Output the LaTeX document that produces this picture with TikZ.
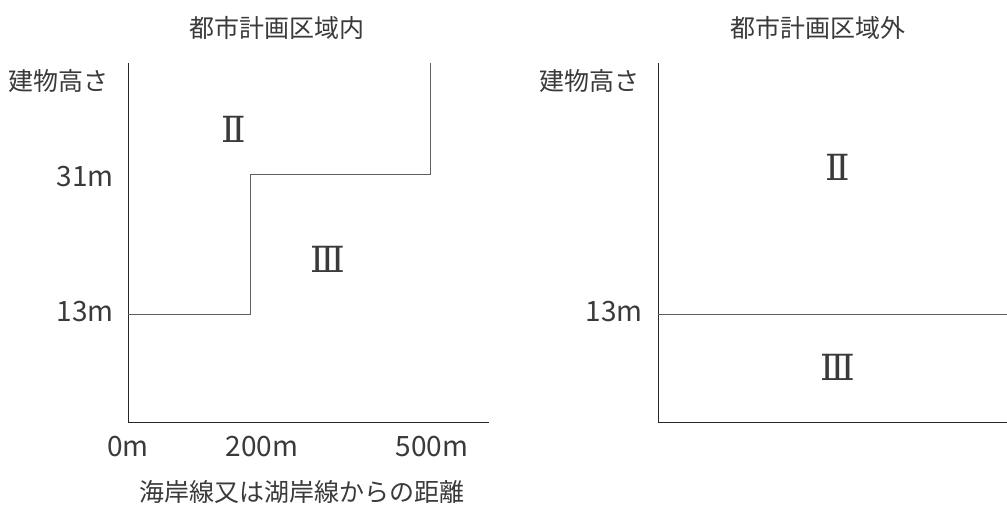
\documentclass[tikz,border=0pt]{standalone}
\usepackage{fontspec}
\setmainfont{Noto Sans CJK JP}
\newfontfamily\romanfont{DejaVu Serif}
\usetikzlibrary{positioning}
\definecolor{textgray}{RGB}{58,58,58}
\definecolor{linegray}{RGB}{95,95,95}

\begin{document}
\begin{tikzpicture}[
    x=1pt, y=-1pt,
    every node/.style={align=center, inner sep=0pt, text=textgray},
    txt/.style={font=\fontsize{25}{29}\selectfont},
    num/.style={font=\fontsize{28}{32}\selectfont},
    zone/.style={font=\romanfont\fontsize{36}{40}\selectfont},
    axis/.style={draw=black!85, line width=1pt},
    bound/.style={draw=linegray, line width=1pt}
]
\useasboundingbox (0,0) rectangle (1007,507);

% Inside the city planning area
\node[txt] (titleA) at (277,28) {都市計画区域内};
\coordinate (topA) at (128,63);
\coordinate (originA) at (128,422);
\coordinate (endA) at (489,422);
\coordinate (lowA) at (128,314);
\coordinate (stepA) at (250,314);
\coordinate (midA) at (250,174);
\coordinate (cornerA) at (430,174);
\coordinate (upA) at (430,63);
\draw[axis] (topA) -- (originA) -- (endA);
\draw[bound] (lowA) -- (stepA) -- (midA) -- (cornerA) -- (upA);

\node[txt] (heightA) at (59,81) {建物高さ};
\node[num, anchor=east] (h31) at (114,177) {31m};
\node[num, anchor=east] (h13A) at (114,312) {13m};
\node[num] (d0) at (128,447) {0m};
\node[num] (d200) at (262,447) {200m};
\node[num] (d500) at (432,447) {500m};
\node[txt] (distA) at (302,492) {海岸線又は湖岸線からの距離};
\node[zone] (twoA) at (234,129) {Ⅱ};
\node[zone] (threeA) at (328,259) {Ⅲ};

% Outside the city planning area
\node[txt] (titleB) at (818,28) {都市計画区域外};
\coordinate (topB) at (658,63);
\coordinate (originB) at (658,422);
\coordinate (endB) at (1007,422);
\coordinate (lowB) at (658,314);
\coordinate (rightB) at (1007,314);
\draw[axis] (topB) -- (originB) -- (endB);
\draw[bound] (lowB) -- (rightB);

\node[txt] (heightB) at (589,81) {建物高さ};
\node[num, anchor=east] (h13B) at (643,312) {13m};
\node[zone] (twoB) at (838,167) {Ⅱ};
\node[zone] (threeB) at (838,367) {Ⅲ};

\end{tikzpicture}
\end{document}
